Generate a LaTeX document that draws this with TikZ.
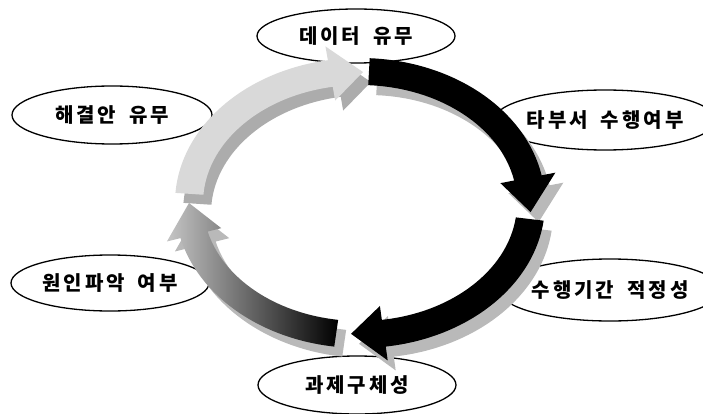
\documentclass[tikz,border=0pt]{standalone}
\usepackage{fontspec}
\newfontfamily\kr{Noto Sans CJK KR}
\usetikzlibrary{shapes.geometric}
% letter-spaced text: each character followed by a small kern, ~ is a word gap
\def\lsend{\lsend}
\def\ls#1{\lsi#1\lsend\unkern}
\def\lsi#1{\ifx#1\lsend\else\ifx#1~\hskip7pt\else#1\fi\kern3pt\expandafter\lsi\fi}
\tikzset{
  lbl/.style={ellipse, draw, line width=1.3pt, inner sep=0pt,
    font=\kr\bfseries\fontsize{20}{20}\selectfont},
  backface/.style={fill=gray!55},
}
% outer/inner radii of the ring
\def\RXo{185}\def\RYo{145}\def\RXi{157}\def\RYi{118}
\def\RXm{171}\def\RYm{131}
% #1 start angle, #2 head base angle, #3 tip angle, #4 path options
\newcommand\ringarrow[4]{%
  \path[#4] ({\RXo*cos(#1)},{\RYo*sin(#1)})
    arc[start angle=#1, end angle=#2, x radius=\RXo, y radius=\RYo]
    -- ({(\RXo+14)*cos(#2)},{(\RYo+14)*sin(#2)})
    -- ({\RXm*cos(#3)},{\RYm*sin(#3)})
    -- ({(\RXi-14)*cos(#2)},{(\RYi-14)*sin(#2)})
    -- ({\RXi*cos(#2)},{\RYi*sin(#2)})
    arc[start angle=#2, end angle=#1, x radius=\RXi, y radius=\RYi]
    -- cycle;}
\begin{document}
\begin{tikzpicture}[x=1pt,y=1pt]
\useasboundingbox (0,0) rectangle (703,413);
% labels
\node[lbl, minimum width=198, minimum height=54] (data) at (356,377) {\ls{데이터~유무}};
\node[lbl, minimum width=200, minimum height=58] (sol) at (112,298) {\ls{해결안~유무}};
\node[lbl, minimum width=196, minimum height=60] (dept) at (605,293) {\ls{타부서~수행여부}};
\node[lbl, minimum width=198, minimum height=56] (cause) at (110,130) {\ls{원인파악~여부}};
\node[lbl, minimum width=190, minimum height=62] (period) at (610,123) {\ls{수행기간~적정성}};
\node[lbl, minimum width=198, minimum height=58] (task) at (357,28) {\ls{과제구체성}};
\begin{scope}[shift={(360,210)}]
  % back faces
  \begin{scope}[shift={(8,-10)}]
    \ringarrow{176}{100}{89}{fill=gray!65}
    \ringarrow{-98}{-166}{-180}{fill=gray!55}
    \ringarrow{87}{11}{-4}{backface}
    \ringarrow{-7}{-82}{-93}{backface}
  \end{scope}
  % front faces
  \ringarrow{176}{100}{89}{fill=gray!30}
  \ringarrow{-98}{-166}{-180}{left color=gray!45, right color=black}
  \ringarrow{87}{11}{-4}{fill=black}
  \ringarrow{-7}{-82}{-93}{fill=black}
\end{scope}
\end{tikzpicture}
\end{document}
